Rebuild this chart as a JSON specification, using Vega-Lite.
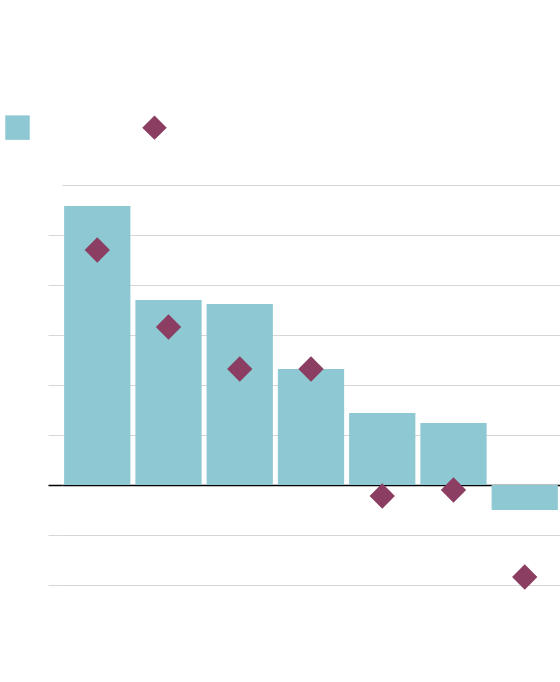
{
  "$schema": "https://vega.github.io/schema/vega-lite/v6.json",
  "autosize": {"type": "none"},
  "width": 498,
  "height": 400,
  "padding": {"left": 62, "top": 185, "right": 0, "bottom": 97},
  "background": "white",
  "data": {
    "values": [
      {"cat": "1", "series": "A", "value": 5.58},
      {"cat": "2", "series": "A", "value": 3.7},
      {"cat": "3", "series": "A", "value": 3.62},
      {"cat": "4", "series": "A", "value": 2.32},
      {"cat": "5", "series": "A", "value": 1.44},
      {"cat": "6", "series": "A", "value": 1.24},
      {"cat": "7", "series": "A", "value": -0.5},
      {"cat": "1", "series": "B", "value": 4.7},
      {"cat": "2", "series": "B", "value": 3.16},
      {"cat": "3", "series": "B", "value": 2.32},
      {"cat": "4", "series": "B", "value": 2.32},
      {"cat": "5", "series": "B", "value": -0.22},
      {"cat": "6", "series": "B", "value": -0.1},
      {"cat": "7", "series": "B", "value": -1.84}
    ]
  },
  "encoding": {
    "x": {
      "field": "cat", "type": "nominal",
      "scale": {"paddingInner": 0.07, "paddingOuter": 0.03},
      "axis": null
    },
    "y": {
      "field": "value", "type": "quantitative",
      "scale": {"domain": [-2, 6], "nice": false, "zero": false},
      "axis": {
        "values": [-2, -1, 0, 1, 2, 3, 4, 5, 6],
        "title": null,
        "labels": false,
        "domain": false,
        "tickSize": 14,
        "gridColor": {"condition": {"test": "datum.value === 0", "value": "#000000"}, "value": "#d6d6d6"},
        "tickColor": {"condition": {"test": "datum.value === 0", "value": "#000000"}, "value": "#d6d6d6"},
        "tickOpacity": {"condition": {"test": "datum.value === 6", "value": 0}, "value": 1},
        "gridWidth": {"condition": {"test": "datum.value === 0", "value": 1.5}, "value": 1},
        "tickWidth": {"condition": {"test": "datum.value === 0", "value": 1.5}, "value": 1}
      }
    },
    "color": {
      "field": "series", "type": "nominal",
      "scale": {"domain": ["A", "B"], "range": ["#8ec8d2", "#8b3d62"]},
      "legend": {
        "title": null,
        "orient": "none",
        "direction": "horizontal",
        "legendX": -57,
        "legendY": -70,
        "labelExpr": "''",
        "symbolSize": 600,
        "symbolStrokeWidth": 0,
        "columnPadding": 108,
        "padding": 0
      }
    }
  },
  "layer": [
    {
      "transform": [{"filter": "datum.series === 'A'"}],
      "mark": {"type": "bar", "zindex": 0}
    },
    {
      "transform": [{"filter": "datum.series === 'B'"}],
      "mark": {"type": "point", "filled": true, "opacity": 1, "size": 640, "strokeWidth": 0},
      "encoding": {
        "shape": {
          "field": "series", "type": "nominal",
          "scale": {"domain": ["A", "B"], "range": ["square", "diamond"]},
          "legend": {
            "title": null,
            "orient": "none",
            "direction": "horizontal",
            "legendX": -57,
            "legendY": -70,
            "labelExpr": "''",
            "symbolSize": 600,
            "symbolStrokeWidth": 0,
            "columnPadding": 108,
            "padding": 0
          }
        }
      }
    }
  ],
  "config": {"view": {"stroke": null}, "axis": {"grid": true}}
}
